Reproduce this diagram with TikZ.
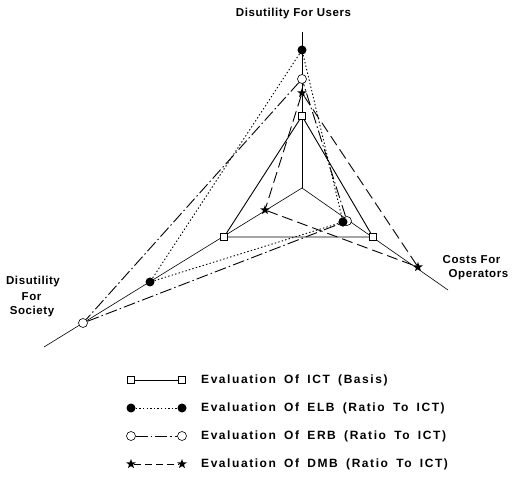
\documentclass[tikz,border=0pt]{standalone}
\usepackage{fontspec}
\setmainfont{Liberation Sans}
\newfontfamily\lblfont[LetterSpace=5]{Liberation Sans Bold}
\newfontfamily\legfont[LetterSpace=13,WordSpace=1.7]{Liberation Sans Bold}
\usetikzlibrary{shapes.geometric}
\begin{document}
\begin{tikzpicture}[x=1pt,y=-1pt,
  axis/.style={line width=0.6pt},
  ictline/.style={line width=0.9pt},
  elbline/.style={line width=0.9pt,dash pattern=on 1.4pt off 2.2pt},
  erbline/.style={line width=0.9pt,dash pattern=on 12pt off 3pt on 1.5pt off 3pt},
  dmbline/.style={line width=0.9pt,dash pattern=on 11pt off 5pt},
  sqm/.style={draw,line width=0.6pt,fill=white,rectangle,minimum size=7.5pt,inner sep=0pt},
  fcm/.style={circle,fill=black,minimum size=9pt,inner sep=0pt},
  ocm/.style={circle,draw,line width=0.6pt,fill=white,minimum size=9pt,inner sep=0pt},
  stm/.style={star,star points=5,star point ratio=2.4,fill=black,minimum size=10pt,inner sep=0pt},
  lbl/.style={font=\lblfont\fontsize{11.5}{13}\selectfont,inner sep=0pt},
  leg/.style={font=\legfont\fontsize{12}{14}\selectfont,inner sep=0pt,anchor=west}]
\useasboundingbox (0,0) rectangle (517,478);
% axes
\coordinate (c) at (302,188);
\coordinate (ut) at (302,32);
\coordinate (lt) at (44,347);
\coordinate (rt) at (448,290);
\draw[axis] (c) -- (ut);
\draw[axis] (c) -- (lt);
\draw[axis] (c) -- (rt);
% data markers
\node[sqm] (ictU) at (302,116) {};
\node[sqm] (ictL) at (224,237) {};
\node[sqm] (ictR) at (373,237) {};
\node[fcm] (elbU) at (302,50) {};
\node[fcm] (elbL) at (150,282) {};
\node[fcm] (elbR) at (343,222) {};
\node[ocm] (erbU) at (302,79) {};
\node[ocm] (erbL) at (83,323) {};
\node[ocm] (erbR) at (347,221) {};
\node[stm] (dmbU) at (302,93) {};
\node[stm] (dmbL) at (265,210) {};
\node[stm] (dmbR) at (418,267) {};
% polygons
\draw[ictline] (ictU) -- (ictL) -- (ictR) -- (ictU);
\draw[elbline] (elbU) -- (elbL) -- (elbR) -- (elbU);
\draw[erbline] (erbU) -- (erbL) -- (erbR) -- (erbU);
\draw[dmbline] (dmbU) -- (dmbL) -- (dmbR) -- (dmbU);
\node[fcm] at (elbR) {};
% axis labels
\node[lbl] (tUsers) at (293.5,14) {Disutility For Users};
\node[lbl] (tS1) at (33,282) {Disutility};
\node[lbl] (tS2) at (31.5,297) {For};
\node[lbl] (tS3) at (32,312) {Society};
\node[lbl] (tO1) at (471.5,260) {Costs For};
\node[lbl] (tO2) at (478.5,275) {Operators};
% legend
\node[sqm] (g1a) at (131,380) {};
\node[sqm] (g1b) at (182,380) {};
\draw[ictline] (g1a) -- (g1b);
\node[leg] (t1) at (201,380) {Evaluation Of ICT (Basis)};
\node[fcm] (g2a) at (131,408) {};
\node[fcm] (g2b) at (182,408) {};
\draw[elbline,line width=0.6pt] (g2a) -- (g2b);
\node[leg] (t2) at (201,408) {Evaluation Of ELB (Ratio To ICT)};
\node[ocm] (g3a) at (131,436) {};
\node[ocm] (g3b) at (182,436) {};
\draw[erbline] (g3a) -- (g3b);
\node[leg] (t3) at (201,436) {Evaluation Of ERB (Ratio To ICT)};
\node[stm] (g4a) at (131,464) {};
\node[stm] (g4b) at (182,464) {};
\draw[dmbline,dash pattern=on 7pt off 4pt] (g4a) -- (g4b);
\node[leg] (t4) at (201,464) {Evaluation Of DMB (Ratio To ICT)};
\end{tikzpicture}
\end{document}
